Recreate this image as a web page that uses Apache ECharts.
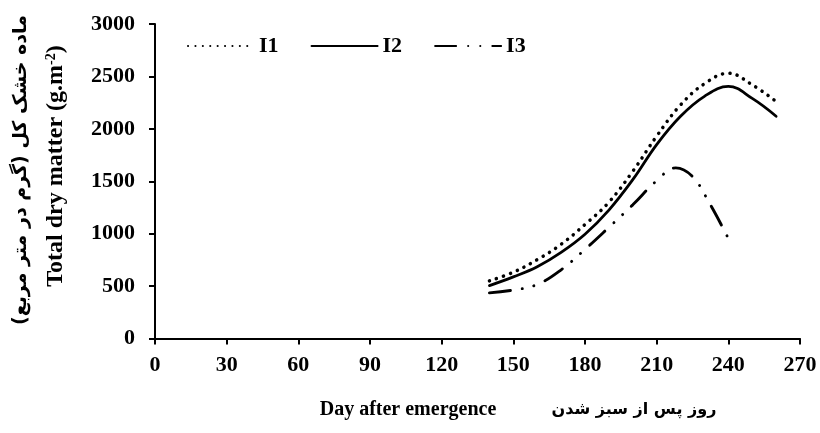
<!DOCTYPE html>
<html>
<head>
<meta charset="utf-8">
<script src="https://cdn.jsdelivr.net/npm/echarts@6/dist/echarts.min.js"></script>
<style>html,body{margin:0;padding:0;background:#fff}#c{width:820px;height:433px}</style>
</head>
<body>
<div id="c"></div>
<script>
// ---- data ----
var seriesNames = ['I1', 'I2', 'I3'];
var daysI1 = [140, 150, 160, 170, 180, 190, 200, 210, 220, 230, 240, 250, 260];
var valuesI1 = [550, 632, 752, 898, 1088, 1300, 1595, 1930, 2228, 2430, 2530, 2420, 2260];
var daysI2 = [140, 150, 160, 170, 180, 190, 200, 210, 220, 230, 240, 250, 260];
var valuesI2 = [505, 588, 685, 822, 995, 1225, 1515, 1850, 2120, 2310, 2405, 2290, 2120];
var daysI3 = [140, 150, 160, 170, 180, 190, 200, 210, 218, 225, 232, 240];
var valuesI3 = [435, 462, 515, 655, 850, 1060, 1275, 1505, 1628, 1545, 1295, 955];
var xTicks = [0, 30, 60, 90, 120, 150, 180, 210, 240, 270];
var yTicks = [0, 500, 1000, 1500, 2000, 2500, 3000];

function pairs(xs, ys) { return xs.map(function (d, i) { return [d, ys[i]]; }); }

var serif = '"Liberation Serif", "Times New Roman", serif';
var chart = echarts.init(document.getElementById('c'), null, { renderer: 'canvas' });

var lineBase = { color: '#000', cap: 'round' };
chart.setOption({
  animation: false,
  backgroundColor: '#fff',
  grid: { left: 155, right: 20, top: 24, bottom: 94.5, containLabel: false },
  legend: {
    left: 182, top: 30,
    itemWidth: 66, itemHeight: 14, itemGap: 32,
    itemStyle: { opacity: 0 },
    textStyle: { fontFamily: serif, fontWeight: 'bold', fontSize: 22, color: '#000' },
    data: seriesNames
  },
  xAxis: {
    type: 'value', min: xTicks[0], max: xTicks[xTicks.length - 1], interval: 30,
    splitLine: { show: false },
    axisLine: { lineStyle: { color: '#000', width: 2 } },
    axisTick: { show: true, inside: false, length: 6, lineStyle: { color: '#000', width: 2 } },
    axisLabel: { margin: 16, fontFamily: serif, fontWeight: 'bold', fontSize: 22, color: '#000',
      formatter: function (v) { return String(v); } }
  },
  yAxis: {
    type: 'value', min: yTicks[0], max: yTicks[yTicks.length - 1], interval: 500,
    splitLine: { show: false },
    axisLine: { show: true, lineStyle: { color: '#000', width: 2 } },
    axisTick: { show: true, inside: false, length: 6, lineStyle: { color: '#000', width: 2 } },
    axisLabel: { margin: 20, fontFamily: serif, fontWeight: 'bold', fontSize: 22, color: '#000',
      formatter: function (v) { return String(v); } }
  },
  series: [
    { name: 'I1', type: 'line', smooth: 0.4, symbol: 'none', data: pairs(daysI1, valuesI1),
      itemStyle: { color: '#000' },
      lineStyle: Object.assign({ width: 3.5, type: [0.1, 7.3] }, lineBase) },
    { name: 'I2', type: 'line', smooth: 0.4, symbol: 'none', data: pairs(daysI2, valuesI2),
      itemStyle: { color: '#000' },
      lineStyle: Object.assign({ width: 2.8, type: 'solid' }, lineBase) },
    { name: 'I3', type: 'line', smooth: 0.4, symbol: 'none', data: pairs(daysI3, valuesI3),
      itemStyle: { color: '#000' },
      lineStyle: Object.assign({ width: 2.9, type: [21, 12, 0.1, 12, 0.1, 12] }, lineBase) }
  ],
  graphic: [
    { type: 'text', x: 21, y: 170, rotation: Math.PI / 2,
      style: { text: 'ماده خشک کل (گرم در متر مربع)', fontFamily: '"DejaVu Sans", sans-serif', fontWeight: 'bold',
        fontSize: 19, fill: '#000', align: 'center', verticalAlign: 'middle' } },
    { type: 'text', x: 56, y: 166, rotation: Math.PI / 2,
      style: { text: 'Total dry matter (g.m{sup|-2})', fontFamily: serif, fontWeight: 'bold',
        fontSize: 24, fill: '#000', align: 'center', verticalAlign: 'middle',
        rich: { sup: { fontFamily: serif, fontWeight: 'bold', fontSize: 14, fill: '#000', verticalAlign: 'top', padding: [0, 0, 8, 0] } } } },
    { type: 'text', x: 408, y: 410,
      style: { text: 'Day after emergence', fontFamily: serif, fontWeight: 'bold',
        fontSize: 20, fill: '#000', align: 'center', verticalAlign: 'middle' } },
    { type: 'text', x: 634, y: 410,
      style: { text: 'روز پس از سبز شدن', fontFamily: '"DejaVu Sans", sans-serif', fontWeight: 'bold',
        fontSize: 16, fill: '#000', align: 'center', verticalAlign: 'middle' } }
  ]
});
</script>
</body>
</html>
